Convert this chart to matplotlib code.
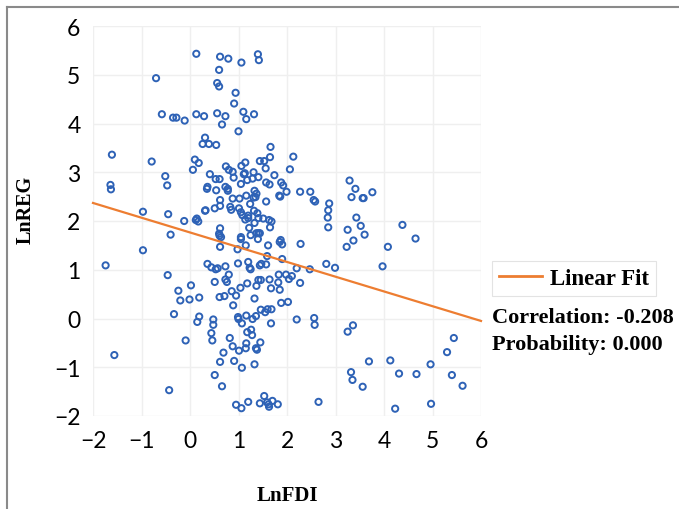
import matplotlib
matplotlib.use("Agg")
import matplotlib.pyplot as plt
from matplotlib.lines import Line2D

# ---------------- data ----------------
pts = [
    (0.13,5.43),(0.62,5.37),(0.79,5.33),(1.06,5.25),(1.40,5.42),(1.42,5.30),(-0.70,4.93),
    (0.60,5.10),(0.56,4.83),(0.60,4.76),(0.94,4.63),(0.91,4.41),(-0.58,4.19),(-0.35,4.12),
    (-0.28,4.12),(-0.11,4.06),(0.13,4.19),(0.29,4.15),(0.56,4.21),(0.73,4.15),(0.66,3.98),
    (1.10,4.24),(1.16,4.09),(1.32,4.19),(1.00,3.84),(0.31,3.71),(0.26,3.58),(0.39,3.58),
    (0.54,3.56),(1.66,3.52),(-1.61,3.36),(-0.79,3.22),(0.10,3.26),(0.18,3.19),(0.06,3.05),
    (0.74,3.12),(0.80,3.05),(0.88,3.01),(1.14,3.20),(1.06,3.13),(1.44,3.23),(1.53,3.23),
    (1.65,3.31),(2.13,3.32),(1.56,3.08),(2.06,3.06),(0.41,2.96),(0.53,2.86),(0.61,2.86),
    (0.90,2.89),(1.11,2.96),(1.13,2.98),(1.31,3.00),(1.18,2.84),(1.05,2.76),(1.29,2.87),
    (1.41,2.90),(1.74,2.94),(1.57,2.79),(1.64,2.75),(1.88,2.79),(1.92,2.73),(-1.64,2.74),
    (-1.63,2.65),(-0.51,2.92),(-0.47,2.73),(0.36,2.70),(0.35,2.66),(0.54,2.63),(0.73,2.70),
    (0.78,2.66),(0.78,2.62),(0.88,2.46),(1.02,2.46),(1.16,2.52),(1.33,2.62),(1.37,2.56),
    (1.31,2.48),(1.35,2.49),(1.57,2.40),(1.84,2.52),(1.86,2.50),(1.99,2.60),(2.27,2.60),
    (2.48,2.60),(2.55,2.43),(2.58,2.40),(2.87,2.36),(2.85,2.22),(2.84,2.07),(2.85,1.87),
    (0.62,2.43),(0.51,2.26),(0.62,2.31),(0.83,2.29),(0.85,2.23),(1.01,2.26),(1.05,2.18),
    (1.08,2.12),(1.24,2.35),(1.32,2.21),(1.39,2.16),(1.20,2.11),(1.14,2.03),(1.20,2.06),
    (1.41,2.06),(1.51,2.05),(1.63,2.02),(1.68,1.99),(1.33,1.96),(1.65,1.87),(0.31,2.21),
    (0.32,2.22),(0.12,2.02),(0.14,2.05),(0.17,1.99),(-0.12,2.00),(-0.45,2.14),(-0.97,2.19),
    (-0.40,1.72),(-0.97,1.40),(0.62,1.85),(0.60,1.74),(0.61,1.70),(0.64,1.67),(0.62,1.47),
    (1.22,1.86),(1.25,1.71),(1.05,1.67),(1.05,1.63),(1.15,1.50),(0.98,1.42),(1.37,1.75),
    (1.41,1.75),(1.44,1.75),(1.40,1.63),(1.61,1.50),(1.85,1.57),(1.87,1.61),(1.90,1.52),
    (2.28,1.53),(1.59,1.28),(1.90,1.22),
    (-1.74,1.09),(-0.46,0.89),(0.36,1.12),(0.44,1.05),(0.53,1.01),(0.57,1.03),(0.73,1.07),
    (0.80,0.90),(0.73,0.80),(0.76,0.75),(0.51,0.75),(0.99,1.13),(1.20,1.16),(1.23,1.04),
    (1.25,1.01),(1.44,1.09),(1.47,1.12),(1.57,1.11),(2.20,1.03),(2.47,1.01),(2.81,1.12),
    (2.99,1.04),(1.04,0.63),(1.18,0.72),(1.37,0.67),(1.41,0.79),(1.46,0.79),(1.64,0.80),
    (1.83,0.90),(1.98,0.90),(2.04,0.81),(2.10,0.87),(1.82,0.74),(1.85,0.59),(1.67,0.62),
    (2.27,0.73),(0.86,0.56),(0.95,0.47),(0.61,0.44),(0.71,0.46),(0.89,0.27),(1.33,0.41),
    (1.88,0.32),(2.02,0.34),(-0.24,0.57),(0.02,0.68),(-0.20,0.37),(-0.01,0.39),(0.19,0.43),
    (-0.33,0.09),(0.19,0.04),(0.15,-0.07),(0.48,-0.02),(0.48,-0.13),(0.44,-0.30),(0.46,-0.45),
    (-0.09,-0.45),(0.99,0.03),(1.00,-0.01),(1.07,-0.10),(1.16,0.06),(1.29,-0.01),(1.36,0.05),
    (1.46,0.18),(1.55,0.13),(1.60,0.19),(1.68,0.19),(1.67,-0.10),(1.18,-0.28),(1.26,-0.23),
    (1.28,-0.34),(0.82,-0.40),(0.88,-0.57),(1.01,-0.66),(1.15,-0.61),(1.16,-0.51),(1.36,-0.61),
    (1.38,-0.64),(1.45,-0.49),(0.69,-0.70),(0.62,-0.89),(0.91,-0.87),(1.07,-1.01),(1.33,-0.94),
    (2.20,-0.02),(2.56,0.01),(2.57,-0.13),(-1.56,-0.75),(0.51,-1.16),(0.66,-1.39),(-0.43,-1.47),
    (0.95,-1.77),(1.06,-1.84),(1.20,-1.71),(1.44,-1.74),(1.53,-1.59),(1.59,-1.72),(1.62,-1.76),
    (1.63,-1.81),(1.70,-1.69),(1.81,-1.76),(2.65,-1.71),
    (3.29,2.83),(3.41,2.66),(3.33,2.49),(3.56,2.47),(3.58,2.47),(3.76,2.59),(3.43,2.07),
    (3.52,1.90),(3.25,1.82),(3.60,1.72),(3.37,1.60),(3.23,1.47),(4.08,1.47),(4.38,1.92),
    (4.65,1.64),(3.97,1.07),(3.36,-0.14),(3.25,-0.27),(5.44,-0.40),(5.30,-0.69),(3.69,-0.88),
    (4.13,-0.86),(3.32,-1.10),(3.35,-1.26),(3.56,-1.40),(4.31,-1.13),(4.67,-1.14),(4.96,-0.94),
    (5.40,-1.16),(5.62,-1.38),(4.23,-1.85),(4.97,-1.75),
]
lnfdi = [p[0] for p in pts]
lnreg = [p[1] for p in pts]

fit_x = [-2, 6]
fit_y = [2.37, -0.05]

x_ticks = [-2, -1, 0, 1, 2, 3, 4, 5, 6]
y_ticks = [-2, -1, 0, 1, 2, 3, 4, 5, 6]
stats_lines = ["Correlation: -0.208", "Probability: 0.000"]

# ---------------- figure ----------------
W, H = 679, 510
fig = plt.figure(figsize=(W / 100, H / 100), dpi=100)
ax = fig.add_axes([93 / W, 1 - 417 / H, (481 - 93) / W, (417 - 27) / H])

ax.set_xlim(-2, 6)
ax.set_ylim(-2, 6)
ax.set_xticks(x_ticks)
ax.set_yticks(y_ticks)
ax.grid(True, color="#efefef", linewidth=1.0)
ax.set_axisbelow(True)
for s in ax.spines.values():
    s.set_visible(False)
ax.tick_params(length=0, labelsize=16.5)
ax.tick_params(axis="x", pad=10)
ax.tick_params(axis="y", pad=9)
for lab in ax.get_xticklabels() + ax.get_yticklabels():
    lab.set_fontfamily("Lato")

ax.scatter(lnfdi, lnreg, s=20, facecolors="none", edgecolors="#2E62B6",
           linewidths=1.4, zorder=3)
ax.plot(fit_x, fit_y, color="#ED7D31", linewidth=1.6, zorder=4, clip_on=False)

serif = ["Liberation Serif", "DejaVu Serif"]
fig.text(26 / W, 1 - 210 / H, "LnREG", rotation=90, ha="center", va="center",
         fontsize=14.5, fontweight="bold", family=serif)
fig.text(287 / W, 1 - 496 / H, "LnFDI", ha="center", va="center",
         fontsize=15, fontweight="bold", family=serif)

handle = Line2D([], [], color="#ED7D31", linewidth=2.0)
leg = ax.legend([handle], ["Linear Fit"], loc="upper left",
                bbox_to_anchor=(492 / W, 1 - 262 / H), bbox_transform=fig.transFigure,
                borderaxespad=0, frameon=True, fancybox=False, handlelength=1.9,
                handletextpad=0.35, borderpad=0.3,
                prop={"family": serif, "weight": "bold", "size": 16.5})
leg.get_frame().set_edgecolor("#dcdcdc")
leg.get_frame().set_linewidth(0.8)

fig.text(492 / W, 1 - 318 / H, stats_lines[0], ha="left", va="center",
         fontsize=16, fontweight="bold", family=serif)
fig.text(492 / W, 1 - 345 / H, stats_lines[1], ha="left", va="center",
         fontsize=16, fontweight="bold", family=serif)

# outer frame lines (top and left)
fig.add_artist(Line2D([7 / W, 1], [1 - 8 / H, 1 - 8 / H], transform=fig.transFigure,
                      color="#8a8a8a", linewidth=1.5))
fig.add_artist(Line2D([7 / W, 7 / W], [0, 1 - 8 / H], transform=fig.transFigure,
                      color="#8a8a8a", linewidth=1.5))

fig.savefig("out.png", dpi=100)
